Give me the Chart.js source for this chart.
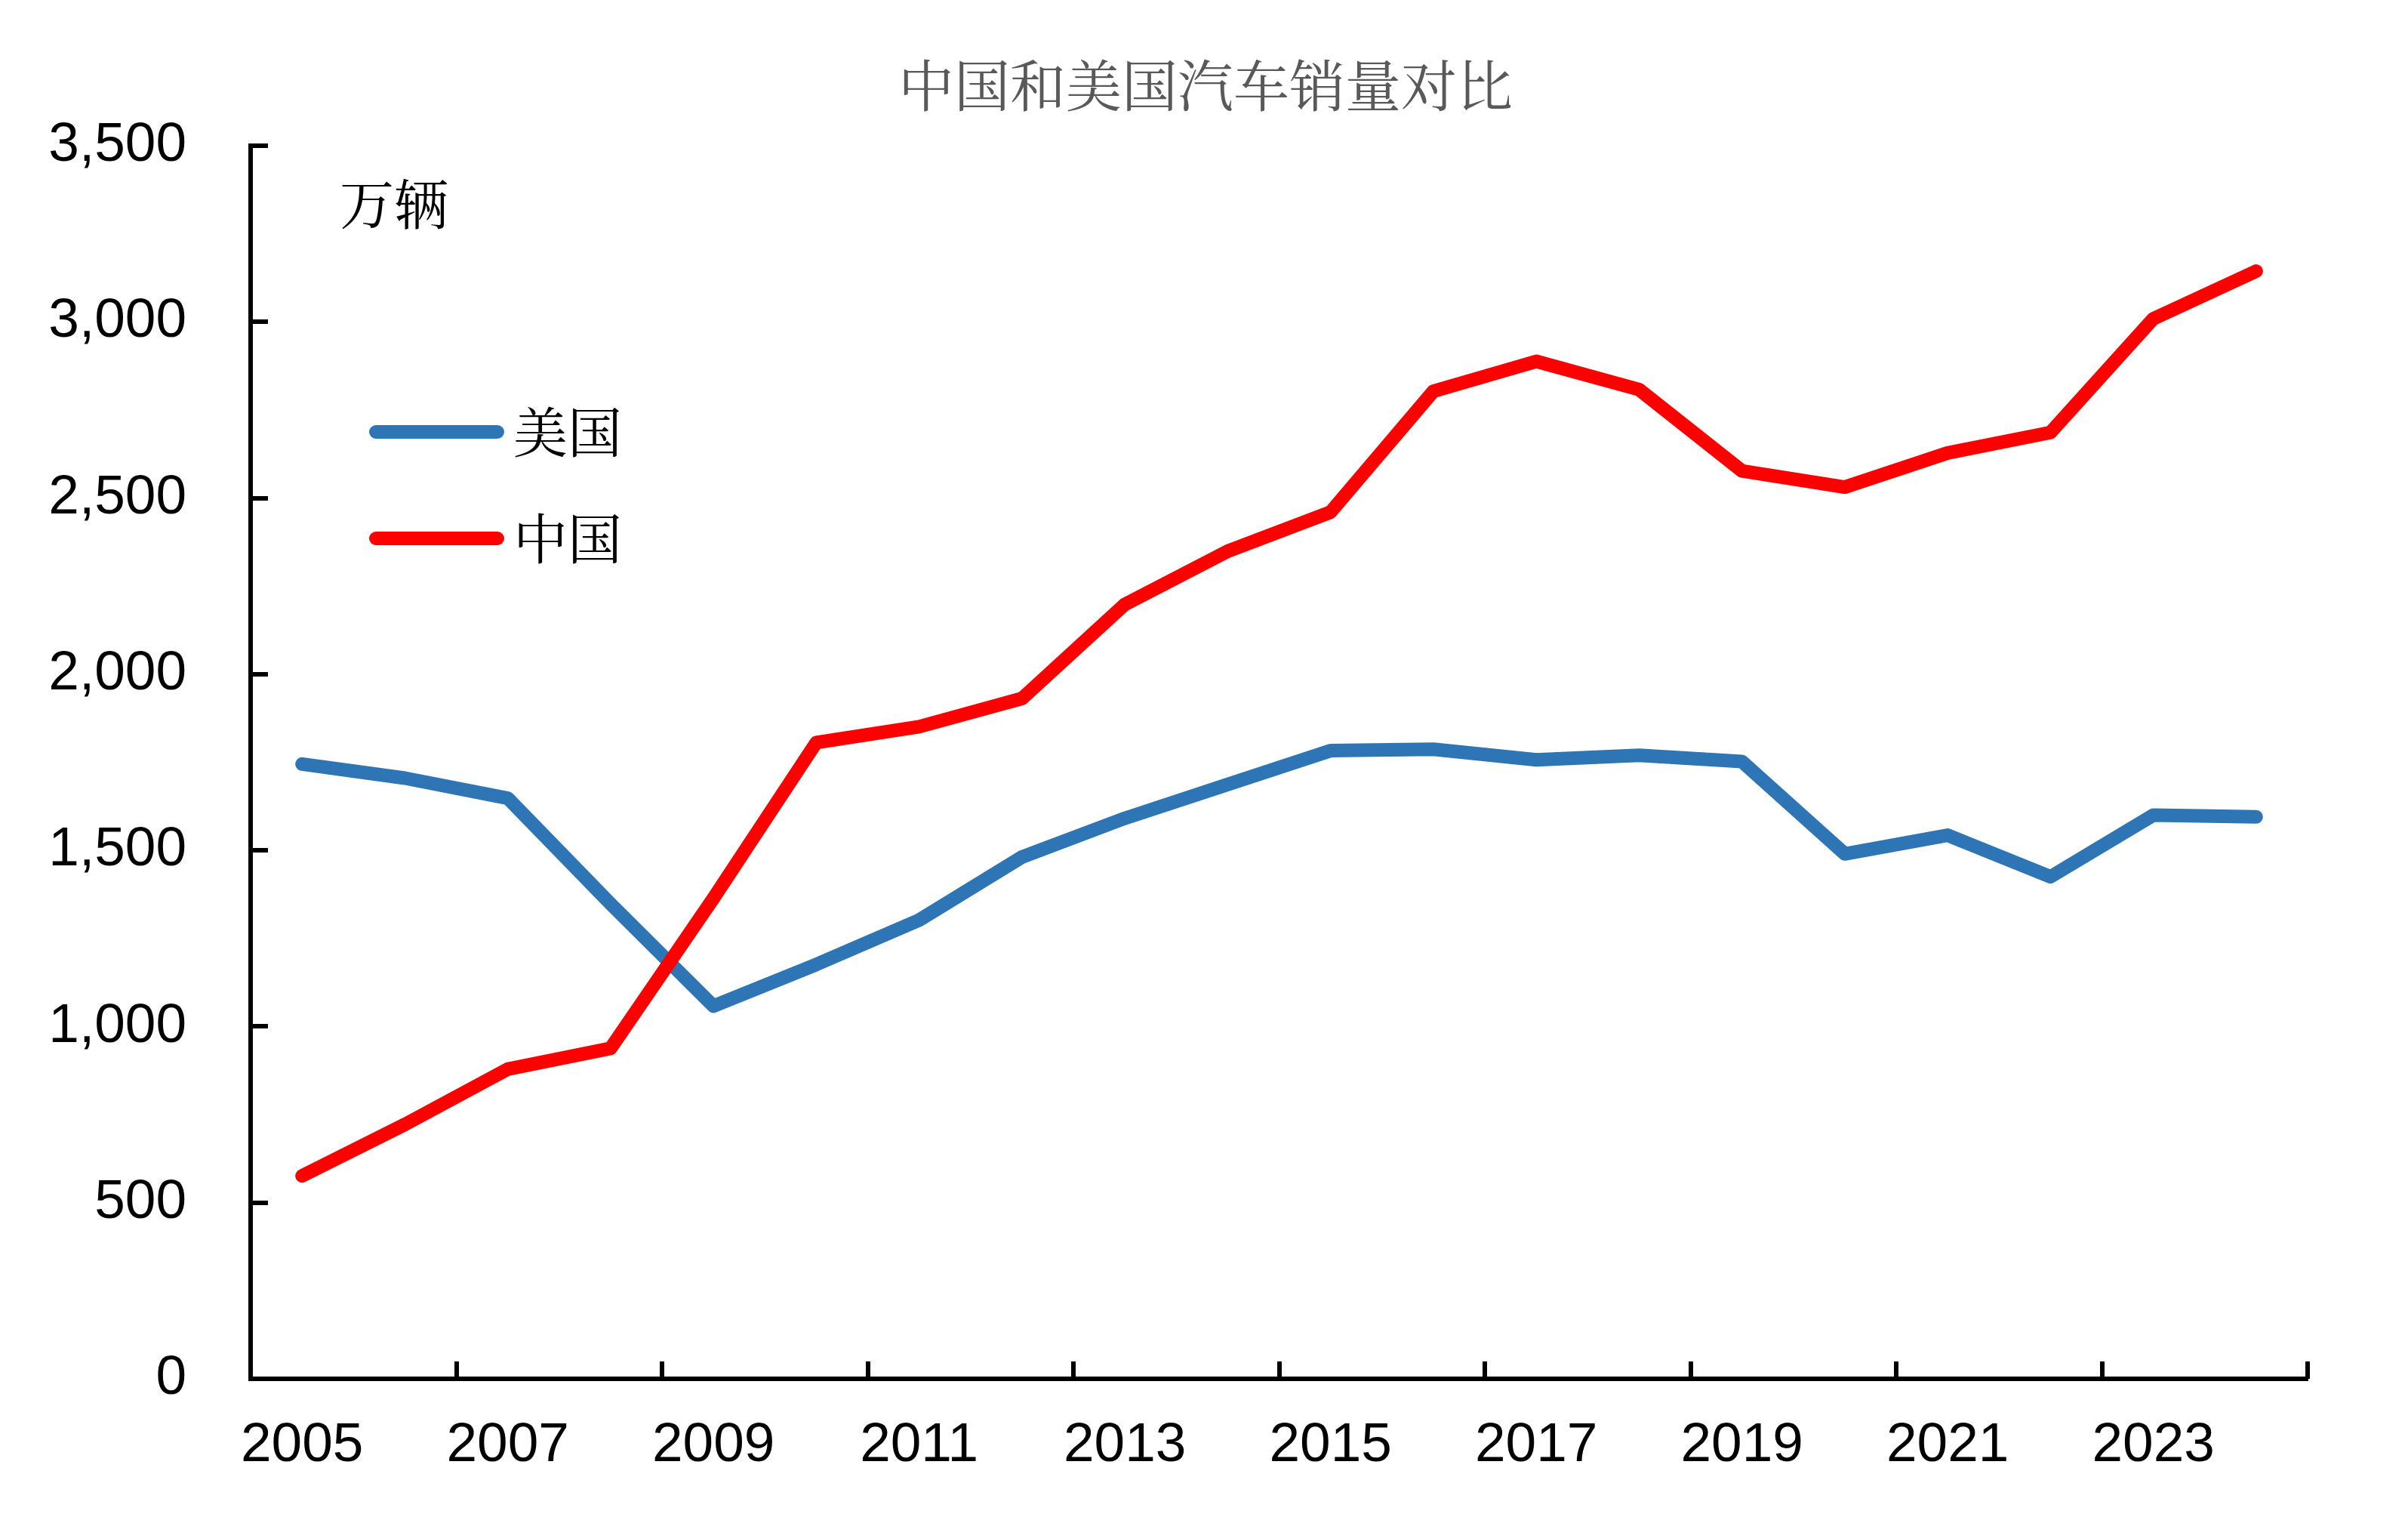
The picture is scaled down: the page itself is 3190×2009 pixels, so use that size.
<!DOCTYPE html>
<html>
<head>
<meta charset="utf-8">
<script src="https://cdn.jsdelivr.net/npm/chart.js@4.4.1/dist/chart.umd.min.js"></script>
<style>
    body { margin: 0; background: #ffffff; }
    #wrap { width: 3190px; height: 2009px; }
</style>
</head>
<body>
<div id="wrap"><canvas id="salesChart" width="3190" height="2009"></canvas></div>
<script>
// Data (万辆)
const years = ['2005', '2006', '2007', '2008', '2009', '2010', '2011', '2012', '2013', '2014',
               '2015', '2016', '2017', '2018', '2019', '2020', '2021', '2022', '2023', '2024'];
const usSales = [1745, 1705, 1648, 1348, 1058, 1176, 1302, 1481, 1591, 1687,
                 1783, 1787, 1757, 1770, 1752, 1490, 1543, 1425, 1600, 1595];
const chinaSales = [576, 722, 879, 938, 1364, 1806, 1851, 1931, 2198, 2349,
                    2460, 2803, 2888, 2808, 2577, 2531, 2628, 2686, 3009, 3144];
const yTicks = [0, 500, 1000, 1500, 2000, 2500, 3000, 3500];

const US_COLOR = '#2E75B6';
const CN_COLOR = '#FF0000';
const CJK_FONT = '"Noto Serif CJK SC", "Noto Sans CJK SC", serif';
const NUM_FONT = '"Liberation Sans", Arial, sans-serif';

// Title, inner tick marks, unit label and legend
const decorPlugin = {
    id: 'decor',
    afterDraw(chart) {
        const ctx = chart.ctx;
        const x = chart.scales.x;
        const y = chart.scales.y;
        const area = chart.chartArea;

        ctx.save();

        // title, centred on the canvas
        ctx.fillStyle = '#595959';
        ctx.font = '74px ' + CJK_FONT;
        ctx.textAlign = 'center';
        ctx.textBaseline = 'middle';
        ctx.fillText('中国和美国汽车销量对比', 1597, 113);

        ctx.strokeStyle = '#000';
        ctx.lineWidth = 6;
        ctx.lineCap = 'butt';

        // y ticks point into the plot
        yTicks.forEach(v => {
            const py = Math.round(y.getPixelForValue(v));
            ctx.beginPath();
            ctx.moveTo(area.left, py);
            ctx.lineTo(area.left + 23, py);
            ctx.stroke();
        });

        // x ticks at category boundaries, every other year
        const half = (x.getPixelForValue(1) - x.getPixelForValue(0)) / 2;
        for (let i = 2; i <= years.length; i += 2) {
            const px = Math.round(x.getPixelForValue(i) - half);
            ctx.beginPath();
            ctx.moveTo(px, area.bottom);
            ctx.lineTo(px, area.bottom - 23);
            ctx.stroke();
        }

        // unit
        ctx.fillStyle = '#000';
        ctx.font = '72px ' + CJK_FONT;
        ctx.textAlign = 'left';
        ctx.fillText('万辆', 450, 270);

        // legend
        const items = [
            { label: '美国', color: US_COLOR, y: 572 },
            { label: '中国', color: CN_COLOR, y: 713 }
        ];
        items.forEach(item => {
            ctx.strokeStyle = item.color;
            ctx.lineWidth = 18;
            ctx.lineCap = 'round';
            ctx.beginPath();
            ctx.moveTo(498, item.y);
            ctx.lineTo(659, item.y);
            ctx.stroke();
            ctx.fillStyle = '#000';
            ctx.fillText(item.label, 680, item.y);
        });
        ctx.restore();
    }
};

new Chart(document.getElementById('salesChart').getContext('2d'), {
    type: 'line',
    data: {
        labels: years,
        datasets: [
            {
                label: '中国',
                data: chinaSales,
                borderColor: CN_COLOR,
                backgroundColor: CN_COLOR,
                borderWidth: 18,
                borderCapStyle: 'round',
                borderJoinStyle: 'round',
                pointRadius: 0,
                tension: 0
            },
            {
                label: '美国',
                data: usSales,
                borderColor: US_COLOR,
                backgroundColor: US_COLOR,
                borderWidth: 18,
                borderCapStyle: 'round',
                borderJoinStyle: 'round',
                pointRadius: 0,
                tension: 0
            }
        ]
    },
    options: {
        responsive: false,
        animation: false,
        devicePixelRatio: 1,
        layout: {
            padding: { left: 32, right: 133, top: 193, bottom: 0 }
        },
        plugins: {
            legend: { display: false },
            tooltip: { enabled: false },
            title: { display: false }
        },
        scales: {
            x: {
                offset: true,
                grid: { display: false, drawTicks: false },
                border: { display: true, color: '#000', width: 6 },
                ticks: {
                    autoSkip: false,
                    maxRotation: 0,
                    padding: 45,
                    color: '#000',
                    font: { family: NUM_FONT, size: 73 },
                    callback: function(value, index) {
                        return index % 2 === 0 ? years[index] : '';
                    }
                },
                afterFit: function(scale) { scale.height = 183; }
            },
            y: {
                min: 0,
                max: 3500,
                grid: { display: false, drawTicks: false },
                border: { display: true, color: '#000', width: 6 },
                ticks: {
                    stepSize: 500,
                    padding: 85,
                    color: '#000',
                    font: { family: NUM_FONT, size: 73 },
                    callback: function(value) {
                        return value.toLocaleString('en-US');
                    }
                },
                afterFit: function(scale) { scale.width = 300; }
            }
        }
    },
    plugins: [decorPlugin]
});
</script>
</body>
</html>
